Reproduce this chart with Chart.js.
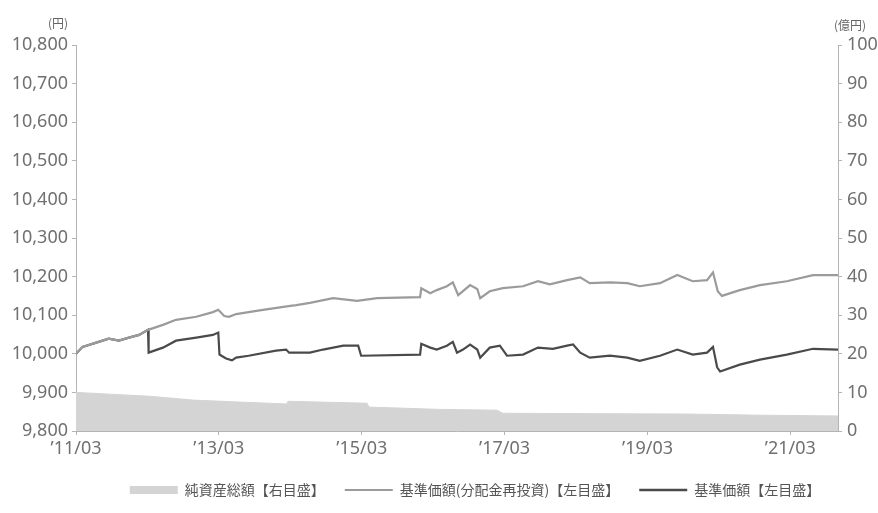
<!DOCTYPE html>
<html>
<head>
<meta charset="utf-8">
<script src="https://cdn.jsdelivr.net/npm/chart.js@4/dist/chart.umd.min.js"></script>
<style>
  html, body { margin: 0; padding: 0; background: #fff; }
  #wrap { position: relative; width: 878px; height: 513px; }
</style>
</head>
<body>
<div id="wrap"><canvas id="fundChart"></canvas></div>
<script>
// months counted from 2011/03
const legendLabels = ['純資産総額【右目盛】', '基準価額(分配金再投資)【左目盛】', '基準価額【左目盛】'];

// 純資産総額 (億円)
const assetMonths = [0, 12.4, 19.7, 27.5, 35.4, 35.6, 48.9, 49.2, 61.1, 70.7, 71.7, 86, 102.6, 115, 128];
const assetValues = [10.0, 9.0, 8.0, 7.5, 7.0, 7.7, 7.2, 6.2, 5.6, 5.4, 4.6, 4.5, 4.4, 4.1, 3.9];

// 基準価額(分配金再投資) (円)
const reinvMonths = [0, 1.1, 3.4, 5.5, 7.2, 8.9, 10.6, 12.1, 14.6, 16.8, 20.2, 23.0, 23.9, 24.9, 25.7, 26.9, 31.4, 36, 37, 39.3, 43.2, 47.2, 50.6, 57.8, 58.0, 59.5, 60.6, 62.3, 63.3, 64.2, 66.2, 67.4, 67.9, 69.5, 71.7, 75.1, 77.6, 79.6, 82.5, 84.7, 86.3, 89.7, 92.6, 94.7, 98.1, 101, 103.6, 106, 107, 107.8, 108.5, 111.5, 114.9, 119.4, 123.8, 128];
const reinvValues = [10000, 10018, 10029, 10039, 10034, 10042, 10049, 10062, 10075, 10088, 10096, 10108, 10114, 10098, 10096, 10103, 10114, 10124, 10126, 10132, 10144, 10137, 10144, 10147, 10170, 10157, 10165, 10175, 10185, 10152, 10178, 10168, 10144, 10162, 10170, 10175, 10188, 10180, 10191, 10198, 10183, 10185, 10183, 10175, 10183, 10204, 10188, 10191, 10211, 10162, 10150, 10165, 10178, 10188, 10204, 10204];

// 基準価額 (円)
const priceMonths = [0, 1.1, 3.4, 5.5, 7.2, 8.9, 10.6, 12.1, 12.2, 14.6, 16.8, 20.2, 23.0, 23.9, 24.1, 25.2, 26.2, 26.9, 29, 33.6, 35.3, 35.8, 39.3, 41.5, 44.9, 47.4, 47.9, 57.8, 58.0, 59.5, 60.6, 62.3, 63.3, 64, 65, 66.2, 67.4, 67.9, 69.5, 71.2, 72.4, 75.1, 77.6, 80.1, 82.5, 83.5, 84.7, 86.3, 89.7, 92.6, 94.7, 98.1, 101, 103.6, 106, 107, 107.7, 108.2, 111.5, 114.9, 119.4, 123.8, 128];
const priceValues = [10000, 10018, 10029, 10039, 10034, 10042, 10049, 10062, 10003, 10016, 10034, 10042, 10049, 10055, 9998, 9988, 9983, 9990, 9995, 10008, 10011, 10003, 10003, 10011, 10021, 10021, 9995, 9998, 10026, 10016, 10011, 10021, 10031, 10003, 10011, 10024, 10011, 9990, 10016, 10021, 9995, 9998, 10016, 10013, 10021, 10024, 10003, 9990, 9995, 9990, 9982, 9995, 10011, 9998, 10003, 10018, 9965, 9954, 9972, 9985, 9998, 10013, 10011];

function pairs(xs, ys) {
    return xs.map((x, i) => ({ x: x, y: ys[i] }));
}

function monthLabel(m) {
    const total = 2011 * 12 + 2 + m;
    const yy = Math.floor(total / 12) % 100;
    const mm = total % 12 + 1;
    return '’' + String(yy).padStart(2, '0') + '/' + String(mm).padStart(2, '0');
}

const tickFont = { family: '"Noto Sans", sans-serif', size: 18 };
const tickColor = '#707070';
const axisGray = '#b4b4b4';

// 単位ラベル (円) / (億円)、凡例の位置合わせ
const unitLabels = {
    id: 'unitLabels',
    afterLayout(chart) {
        chart.legend.left += 36;
        chart.legend.right += 36;
    },
    afterDraw(chart) {
        const ctx = chart.ctx;
        const area = chart.chartArea;
        ctx.save();
        ctx.font = '12px "Noto Sans CJK JP", sans-serif';
        ctx.fillStyle = '#666';
        ctx.textBaseline = 'middle';
        ctx.textAlign = 'right';
        ctx.fillText('(円)', area.left - 8, 23);
        ctx.textAlign = 'left';
        ctx.fillText('(億円)', area.right - 4, 25);
        ctx.restore();
    }
};

const ctx = document.getElementById('fundChart').getContext('2d');
const chart = new Chart(ctx, {
    type: 'line',
    data: {
        datasets: [
            {
                label: legendLabels[0],
                data: pairs(assetMonths, assetValues),
                yAxisID: 'yRight',
                borderColor: '#d4d4d4',
                backgroundColor: '#d4d4d4',
                borderWidth: 1,
                fill: 'start',
                pointRadius: 0,
                tension: 0
            },
            {
                label: legendLabels[1],
                data: pairs(reinvMonths, reinvValues),
                yAxisID: 'yLeft',
                borderColor: '#9b9b9b',
                borderWidth: 2.2,
                fill: false,
                pointRadius: 0,
                tension: 0
            },
            {
                label: legendLabels[2],
                data: pairs(priceMonths, priceValues),
                yAxisID: 'yLeft',
                borderColor: '#4a4a4a',
                borderWidth: 2.2,
                fill: false,
                pointRadius: 0,
                tension: 0
            }
        ]
    },
    options: {
        responsive: true,
        maintainAspectRatio: false,
        animation: false,
        layout: { padding: { top: 45, bottom: 6, left: 0, right: 0 } },
        plugins: {
            tooltip: { enabled: false },
            legend: {
                position: 'bottom',
                labels: {
                    font: { family: '"Noto Sans CJK JP", sans-serif', size: 14 },
                    color: '#555',
                    padding: 20,
                    usePointStyle: true,
                    pointStyleWidth: 48,
                    boxHeight: 8,
                    generateLabels(chart) {
                        const widths = [8, 2, 2.5];
                        return chart.data.datasets.map((ds, i) => ({
                            text: ds.label,
                            datasetIndex: i,
                            pointStyle: 'line',
                            strokeStyle: ds.borderColor,
                            fillStyle: ds.borderColor,
                            lineWidth: widths[i],
                            fontColor: '#555',
                            hidden: false
                        }));
                    }
                }
            }
        },
        scales: {
            x: {
                type: 'linear',
                min: 0,
                max: 128,
                ticks: {
                    stepSize: 24,
                    includeBounds: false,
                    autoSkip: false,
                    maxRotation: 0,
                    padding: 3,
                    color: tickColor,
                    font: tickFont,
                    callback: (v) => monthLabel(v)
                },
                grid: { drawOnChartArea: false, color: axisGray, tickLength: 4 },
                border: { color: axisGray },
                afterFit(scale) { scale.height = 32; }
            },
            yLeft: {
                position: 'left',
                min: 9800,
                max: 10800,
                ticks: {
                    stepSize: 100,
                    padding: 4,
                    color: tickColor,
                    font: tickFont,
                    callback: (v) => v.toLocaleString('en-US')
                },
                grid: { drawOnChartArea: false, color: axisGray, tickLength: 4 },
                border: { color: axisGray },
                afterFit(scale) { scale.width = 76; }
            },
            yRight: {
                position: 'right',
                min: 0,
                max: 100,
                ticks: {
                    stepSize: 10,
                    padding: 5,
                    color: tickColor,
                    font: tickFont
                },
                grid: { drawOnChartArea: false, color: axisGray, tickLength: 4 },
                border: { color: axisGray },
                afterFit(scale) { scale.width = 40; }
            }
        }
    },
    plugins: [unitLabels]
});
</script>
</body>
</html>
